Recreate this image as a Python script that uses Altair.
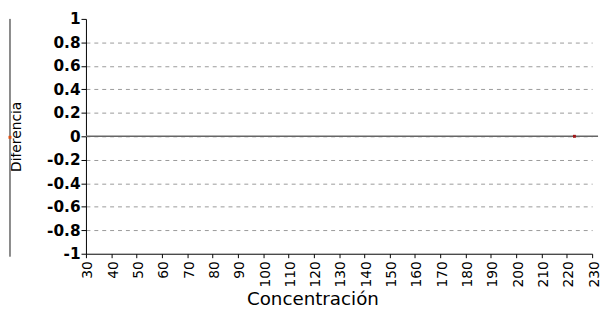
import altair as alt
import pandas as pd

# data
conc = [223]
diff = [0.0]
x_ticks = [30, 40, 50, 60, 70, 80, 90, 100, 110, 120, 130, 140, 150, 160, 170, 180, 190, 200, 210, 220, 230]
y_ticks = [-1, -0.8, -0.6, -0.4, -0.2, 0, 0.2, 0.4, 0.6, 0.8, 1]

df = pd.DataFrame({"Concentración": conc, "Diferencia": diff})
zero_df = pd.DataFrame({"Diferencia": [0]})

W, H = 513, 238

x_scale = alt.Scale(domain=[30, 230], nice=False, zero=False)
y_scale = alt.Scale(domain=[-1, 1], nice=False)

x_axis = alt.Axis(
    values=x_ticks, labelAngle=270, labelFont="DejaVu Sans", labelFontSize=14,
    labelColor="black", labelAlign="right", labelBaseline="middle", labelOffset=2,
    tickSize=4, tickColor="black", domainColor="black", labelPadding=3,
    grid=False, title="Concentración", titleFont="DejaVu Sans", titleFontSize=18.5,
    titleFontWeight="normal", titleColor="black", titleX=229.5, titleY=51,
    titleAlign="center", titleBaseline="alphabetic", labelFlush=False,
    labelOverlap=False,
)
y_axis = alt.Axis(
    values=y_ticks, labelFont="DejaVu Sans", labelFontSize=15.5, labelFontWeight="bold",
    labelColor="black", tickSize=5, tickColor="black", domainColor="black",
    labelPadding=1, grid=True, gridDash=[4, 4], gridColor="#999999", gridWidth=1,
    gridOpacity={"condition": {"test": "abs(datum.value) > 0.95", "value": 0}, "value": 1},
    labelExpr="replace(format(datum.value, '.1~f'), '\u2212', '-')",
    title="Diferencia", titleFont="DejaVu Sans", titleFontSize=14,
    titleFontWeight="normal", titleColor="black", titleAngle=270,
    titleX=-70, titleY=119, titleAlign="center", titleBaseline="middle",
    labelFlush=False, labelOverlap=False,
)

pts = alt.Chart(df).mark_square(color="#a01818", size=9, opacity=1, filled=True).encode(
    x=alt.X("Concentración:Q", scale=x_scale, axis=x_axis),
    y=alt.Y("Diferencia:Q", scale=y_scale, axis=y_axis),
)

zero = alt.Chart(zero_df).mark_rule(color="#666666", strokeWidth=1.5).encode(
    y=alt.Y("Diferencia:Q", scale=y_scale, axis=y_axis),
    x=alt.value(0), x2=alt.value(519),
)

side_line = alt.Chart(zero_df).mark_rule(color="#8a8a8a", strokeWidth=2).encode(
    x=alt.value(-77), y=alt.value(0), y2=alt.value(241),
)
side_dot = alt.Chart(zero_df).mark_square(color="#e05010", size=9, opacity=1, filled=True).encode(
    x=alt.value(-77), y=alt.value(120),
)

chart = alt.layer(zero, pts, side_line, side_dot).properties(
    width=W, height=H,
    autosize=alt.AutoSizeParams(type="none"),
    padding={"left": 79, "top": 9, "right": 10, "bottom": 57},
).configure_view(stroke=None).configure_axis(labelOverlap=False)

chart.save("out.html", embed_options={"renderer": "svg", "actions": False})
